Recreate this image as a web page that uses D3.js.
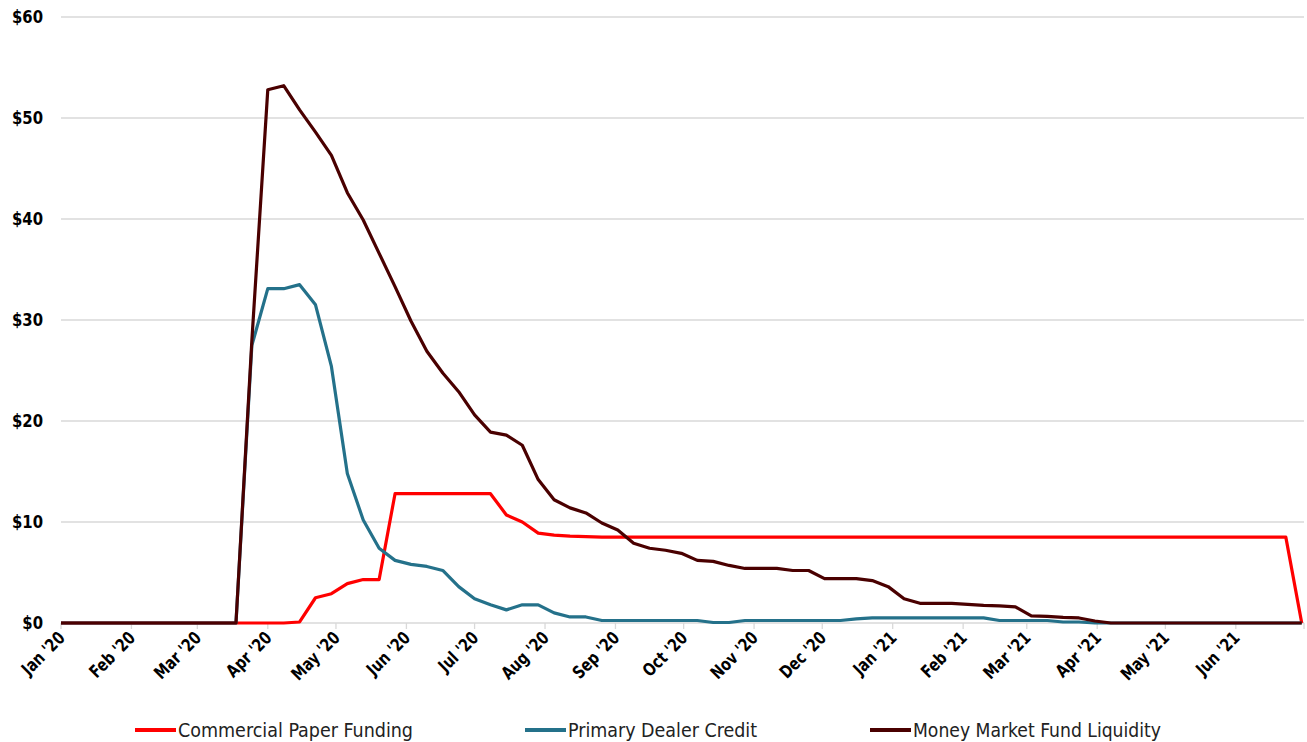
<!DOCTYPE html>
<html>
<head>
<meta charset="utf-8">
<script src="https://cdn.jsdelivr.net/npm/d3@7"></script>
<style>
  html, body { margin: 0; padding: 0; background: #fff; }
  svg { display: block; }
</style>
</head>
<body>
<svg id="chart" width="1307" height="742"></svg>
<script>
// ---------- DATA ----------
const startDate = "2020-01-01";          // first weekly observation (Wednesday)
const weekCount = 79;                     // weekly points through 2021-06-30
const seriesNames = ["Commercial Paper Funding", "Primary Dealer Credit", "Money Market Fund Liquidity"];
const seriesColors = ["#ff0000", "#24718a", "#4a0000"];

const commercialPaper = [
  0,0,0,0,0,0,0,0,0,0,0,0,0,0,0,
  0.1,2.5,2.9,3.9,4.3,4.3,
  12.8,12.8,12.8,12.8,12.8,12.8,12.8,
  10.7,10.0,8.9,8.7,8.6,8.55,
  8.5,8.5,8.5,8.5,8.5,8.5,8.5,8.5,8.5,8.5,8.5,8.5,8.5,8.5,8.5,8.5,8.5,8.5,8.5,8.5,8.5,8.5,
  8.5,8.5,8.5,8.5,8.5,8.5,8.5,8.5,8.5,8.5,8.5,8.5,8.5,8.5,8.5,8.5,8.5,8.5,8.5,8.5,8.5,8.5,
  0
];
const primaryDealer = [
  0,0,0,0,0,0,0,0,0,0,0,0,
  27.5,33.1,33.1,33.5,31.5,25.4,14.8,10.2,7.4,6.2,5.8,5.6,5.2,3.6,2.4,1.8,1.3,1.8,1.8,1.0,0.6,0.6,
  0.25,0.25,0.25,0.25,0.25,0.25,0.25,
  0.05,0.05,
  0.25,0.25,0.25,0.25,0.25,0.25,0.25,
  0.4,
  0.5,0.5,0.5,0.5,0.5,0.5,0.5,0.5,
  0.25,0.25,0.25,0.25,
  0.1,0.1,
  0,0,0,0,0,0,0,0,0,0,0,0,0,0
];
const moneyMarket = [
  0,0,0,0,0,0,0,0,0,0,0,0,
  28,52.8,53.2,50.8,48.6,46.3,42.6,39.9,36.6,33.3,29.9,26.9,24.75,22.9,20.6,18.9,18.6,17.6,14.2,12.2,
  11.4,10.9,9.9,9.2,7.9,7.4,7.2,6.9,6.2,6.1,5.7,5.4,5.4,5.4,5.2,5.2,4.4,4.4,4.4,4.2,3.6,
  2.4,1.95,1.95,1.95,1.85,1.75,1.7,1.6,0.7,0.65,0.55,0.5,0.2,
  0,0,0,0,0,0,0,0,0,0,0,0,0
];
const yTicks = [0, 10, 20, 30, 40, 50, 60];
const monthLabels = ["Jan '20","Feb '20","Mar '20","Apr '20","May '20","Jun '20","Jul '20","Aug '20","Sep '20","Oct '20","Nov '20","Dec '20",
                     "Jan '21","Feb '21","Mar '21","Apr '21","May '21","Jun '21"];

// ---------- BUILD ----------
(function () {
const parse = d3.utcParse("%Y-%m-%d");
const t0 = parse(startDate);
const dates = d3.range(weekCount).map(i => d3.utcDay.offset(t0, i * 7));
const allSeries = [commercialPaper, primaryDealer, moneyMarket];

const svg = d3.select("#chart");
const mLeft = 61, mRight = 1304, mTop = 17, mBottom = 623;

const x = d3.scaleUtc().domain([t0, parse("2021-07-01")]).range([mLeft, mRight]);
const y = d3.scaleLinear().domain([0, 60]).range([mBottom, mTop]);

const FONT = "'DejaVu Sans Condensed', 'Liberation Sans Narrow', 'DejaVu Sans', sans-serif";

// gridlines
svg.append("g").selectAll("line").data(yTicks).join("line")
  .attr("x1", mLeft).attr("x2", mRight)
  .attr("y1", d => y(d)).attr("y2", d => y(d))
  .attr("stroke", "#d9d9d9").attr("stroke-width", 1.3);

// y labels
const yFmt = d => "$" + d;
svg.append("g").selectAll("text").data(yTicks).join("text")
  .attr("transform", d => `translate(43,${y(d)}) scale(0.92,1)`)
  .attr("dy", "0.36em")
  .attr("text-anchor", "end")
  .attr("font-family", FONT).attr("font-weight", "bold").attr("font-size", 18)
  .attr("fill", "#000")
  .text(yFmt);

// x axis ticks
const monthTicks = d3.utcMonth.range(t0, d3.utcDay.offset(parse("2021-07-01"), 1));
svg.append("g").selectAll("line").data(monthTicks).join("line")
  .attr("x1", d => x(d)).attr("x2", d => x(d))
  .attr("y1", mBottom).attr("y2", mBottom + 6)
  .attr("stroke", "#d9d9d9").attr("stroke-width", 1.3);

svg.append("g").selectAll("text").data(monthLabels).join("text")
  .attr("transform", (d, i) => `translate(${x(monthTicks[i]) + 5},${mBottom + 16}) rotate(-45) scale(0.88,1)`)
  .attr("text-anchor", "end")
  .attr("font-family", FONT).attr("font-weight", "bold").attr("font-size", 17.5)
  .attr("fill", "#000")
  .text(d => d);

// lines
const line = d3.line().x((d, i) => x(dates[i])).y(d => y(d)).curve(d3.curveLinear);
svg.append("g").selectAll("path").data(allSeries).join("path")
  .attr("d", d => line(d))
  .attr("fill", "none")
  .attr("stroke", (d, i) => seriesColors[i])
  .attr("stroke-width", 3.2)
  .attr("stroke-linejoin", "round");

// legend
const legendX = [135, 525, 870];
const legendW = [235, 189, 248];
const lg = svg.append("g").selectAll("g").data(seriesNames).join("g")
  .attr("transform", (d, i) => `translate(${legendX[i]},730)`);
lg.append("line").attr("x1", 0).attr("x2", 41).attr("y1", 0).attr("y2", 0)
  .attr("stroke", (d, i) => seriesColors[i]).attr("stroke-width", 4);
lg.append("text").attr("x", 43).attr("y", 7)
  .attr("font-family", FONT).attr("font-size", 20)
  .attr("fill", "#222")
  .attr("textLength", (d, i) => legendW[i]).attr("lengthAdjust", "spacingAndGlyphs")
  .text(d => d);
})();
</script>
</body>
</html>
